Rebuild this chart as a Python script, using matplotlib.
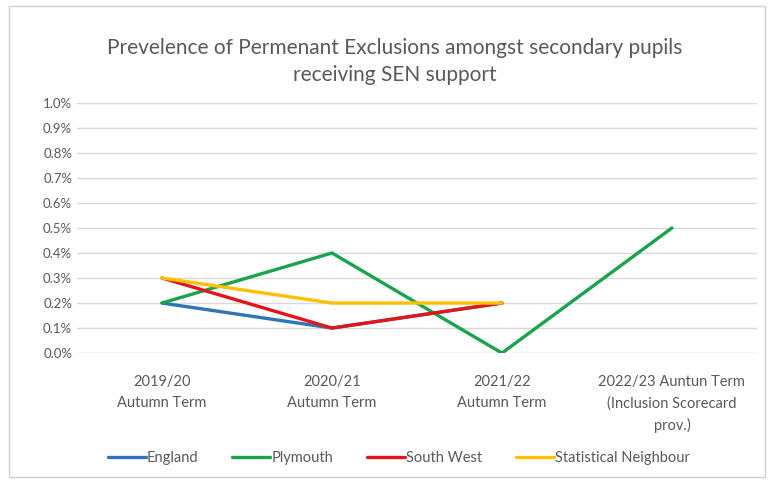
import matplotlib.pyplot as plt
from matplotlib.patches import Rectangle
from matplotlib.ticker import FuncFormatter, MultipleLocator

categories = ["2019/20\nAutumn Term", "2020/21\nAutumn Term", "2021/22\nAutumn Term",
              "2022/23 Auntun Term\n(Inclusion Scorecard\nprov.)"]
england = [0.2, 0.1, 0.2]
plymouth = [0.2, 0.4, 0.0, 0.5]
south_west = [0.3, 0.1, 0.2]
stat_neighbour = [0.3, 0.2, 0.2]

plt.rcParams["font.family"] = ["Lato", "DejaVu Sans"]
text_col = "#595959"

fig = plt.figure(figsize=(7.7, 4.83), dpi=100)
ax = fig.add_axes([0.1, 0.269, 0.883, 0.518])

x = list(range(len(categories)))
series = [("England", england, "#2E75B6"),
          ("Plymouth", plymouth, "#19A34A"),
          ("South West", south_west, "#E3151B"),
          ("Statistical Neighbour", stat_neighbour, "#FFC000")]
for name, vals, col in series:
    ax.plot(x[:len(vals)], vals, color=col, lw=2.4, label=name, solid_capstyle="round")

ax.set_xlim(-0.5, 3.5)
ax.set_ylim(0, 1.0)
ax.yaxis.set_major_locator(MultipleLocator(0.1))
ax.yaxis.set_major_formatter(FuncFormatter(lambda v, p: f"{v:.1f}%"))
ax.set_xticks(x)
ax.set_xticklabels(categories, fontsize=10.5, linespacing=1.6)
ax.tick_params(length=0, colors=text_col)
ax.tick_params(axis="y", labelsize=9.5)
ax.tick_params(axis="x", pad=16)
ax.grid(axis="y", color="#d9d9d9", lw=1)
ax.set_axisbelow(True)
for s in ax.spines.values():
    s.set_visible(False)

fig.text(0.513, 0.873, "Prevelence of Permenant Exclusions amongst secondary pupils\nreceiving SEN support",
         ha="center", va="center", fontsize=15, color=text_col, linespacing=1.4)

fig.legend(loc="center", bbox_to_anchor=(0.518, 0.052), ncol=4, frameon=False,
           fontsize=10.5, labelcolor=text_col, handlelength=2.6, handletextpad=0.1,
           columnspacing=2.3)

fig.patches.append(Rectangle((0.012, 0.012), 0.982, 0.975, transform=fig.transFigure,
                             fill=False, edgecolor="#d0d0d0", lw=1))

fig.savefig("out.png", dpi=100)
